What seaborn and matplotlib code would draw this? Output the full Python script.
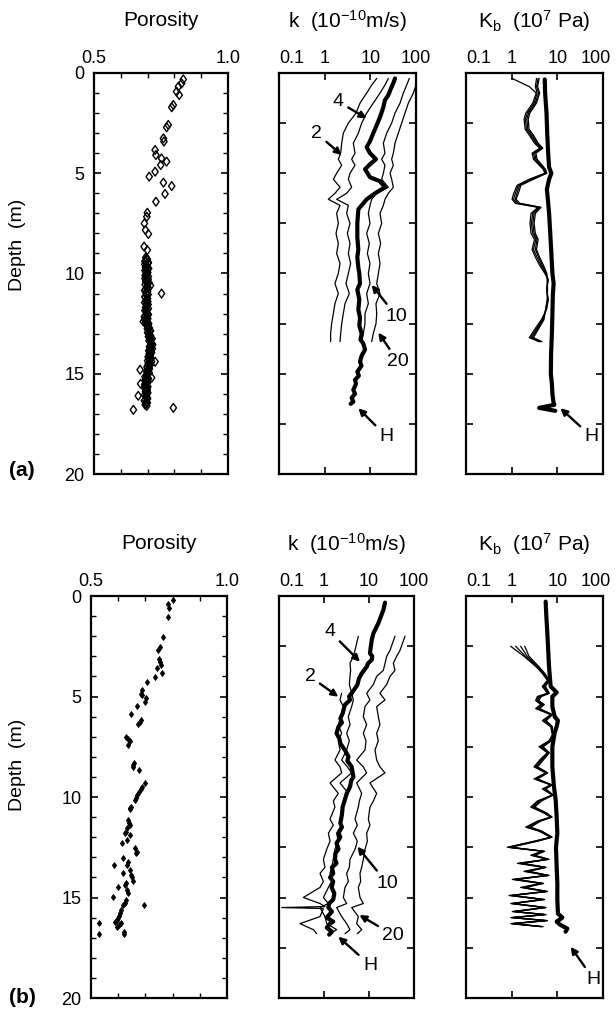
import matplotlib
matplotlib.use("Agg")
import numpy as np
import matplotlib.pyplot as plt
from matplotlib.path import Path
from matplotlib.ticker import NullLocator
from matplotlib.transforms import ScaledTranslation
import seaborn as sns

# ---------------- (a) porosity ----------------
por_a_depth = [0.32, 0.52, 0.68, 0.93, 1.10, 1.60, 1.71, 2.59, 2.71, 3.26, 3.42, 3.84, 4.09, 4.26,
               4.42, 4.59, 4.92, 5.17, 5.47, 5.64, 6.03, 6.42, 6.97, 7.17, 7.50, 7.83, 8.03, 8.66,
               8.83,
               9.2, 9.3, 9.4, 9.5, 9.6, 9.7, 9.8, 9.9, 10.0, 10.1, 10.2, 10.3, 10.4, 10.5, 10.6,
               10.7, 10.8, 10.9, 11.0, 11.1, 11.2, 11.3, 11.4, 11.5, 11.6, 11.7, 11.8, 11.9, 12.0,
               12.1, 12.2, 12.3, 12.4, 12.5, 12.6, 12.7, 12.8, 12.9, 13.0, 13.1, 13.2, 13.3, 13.4,
               13.5, 13.6, 13.7, 13.8, 13.9, 14.0, 14.1, 14.2, 14.3, 14.4, 14.5, 14.6, 14.7, 14.8,
               14.9, 15.0, 15.1, 15.2, 15.3, 15.4, 15.5, 15.6, 15.7, 15.8, 15.9, 16.0, 16.1, 16.2,
               16.3, 16.4, 16.5, 16.6,
               11.0, 12.4, 14.4, 14.8, 15.2, 15.5, 16.1, 16.8, 16.7]
por_a = [0.833, 0.827, 0.815, 0.808, 0.818, 0.796, 0.790, 0.777, 0.771, 0.759, 0.761, 0.728, 0.731,
         0.752, 0.771, 0.749, 0.728, 0.706, 0.759, 0.790, 0.765, 0.731, 0.699, 0.697, 0.688, 0.692,
         0.703, 0.687, 0.699,
         0.693, 0.699, 0.690, 0.701, 0.695, 0.692, 0.700, 0.694, 0.698, 0.691, 0.697, 0.702, 0.693,
         0.699, 0.711, 0.696, 0.692, 0.700, 0.695, 0.698, 0.691, 0.697, 0.701, 0.694, 0.699, 0.692,
         0.698, 0.695, 0.700, 0.693, 0.697, 0.690, 0.699, 0.704, 0.698, 0.706, 0.701, 0.708, 0.704,
         0.711, 0.707, 0.713, 0.709, 0.716, 0.711, 0.714, 0.708, 0.712, 0.706, 0.710, 0.703, 0.708,
         0.715, 0.702, 0.706, 0.699, 0.704, 0.697, 0.702, 0.695, 0.700, 0.693, 0.698, 0.691, 0.697,
         0.693, 0.699, 0.692, 0.697, 0.694, 0.699, 0.692, 0.696, 0.693, 0.697,
         0.752, 0.684, 0.728, 0.672, 0.715, 0.674, 0.665, 0.647, 0.796]
# second pass of samples filling the dense 9-17 m interval
por_a_fill_depth = [9.25, 9.35, 9.45, 9.55, 9.65, 9.75, 9.85, 9.95, 10.05, 10.15, 10.25, 10.35,
                    10.45, 10.55, 10.65, 10.75, 10.85, 10.95, 11.05, 11.15, 11.25, 11.35, 11.45,
                    11.55, 11.65, 11.75, 11.85, 11.95, 12.05, 12.15, 12.25, 12.35, 12.45, 12.55,
                    12.65, 12.75, 12.85, 12.95, 13.05, 13.15, 13.25, 13.35, 13.45, 13.55, 13.65,
                    13.75, 13.85, 13.95, 14.05, 14.15, 14.25, 14.35, 14.45, 14.55, 14.65, 14.75,
                    14.85, 14.95, 15.05, 15.15, 15.25, 15.35, 15.45, 15.55, 15.65, 15.75, 15.85,
                    15.95, 16.05, 16.15, 16.25, 16.35, 16.45, 16.55]
por_a_fill = [0.697, 0.692, 0.703, 0.689, 0.699, 0.704, 0.690, 0.701, 0.694, 0.703, 0.690, 0.696,
              0.705, 0.691, 0.700, 0.703, 0.689, 0.697, 0.702, 0.690, 0.700, 0.694, 0.689, 0.702,
              0.696, 0.703, 0.690, 0.697, 0.703, 0.688, 0.701, 0.695, 0.692, 0.700, 0.702, 0.699,
              0.711, 0.700, 0.708, 0.703, 0.717, 0.705, 0.712, 0.719, 0.707, 0.718, 0.704, 0.715,
              0.710, 0.702, 0.713, 0.700, 0.709, 0.711, 0.698, 0.707, 0.700, 0.706, 0.698, 0.690,
              0.703, 0.696, 0.700, 0.689, 0.701, 0.690, 0.696, 0.701, 0.689, 0.695, 0.700, 0.688,
              0.699, 0.691]

# ---------------- (a) permeability k ----------------
k_a_depth = [0.27, 0.6, 1.0, 1.5, 2.0, 2.5, 3.0, 3.5, 4.0, 4.3, 4.6, 5.0, 5.3, 5.7, 6.0, 6.3,
             6.6, 7.0, 7.5, 8.0, 8.5, 9.0, 9.5, 10.0, 10.5, 11.0, 11.5, 12.0, 12.5, 13.0, 13.4]
k_a_2 = [13.8, 10.7, 8.31, 5.94, 4.86, 3.30, 2.56, 2.36, 2.24, 1.99, 2.36, 1.83, 1.55, 2.17, 1.68,
         1.20, 2.17, 1.83, 1.99, 1.77, 1.99, 1.83, 2.17, 1.99, 1.68, 1.99, 1.68, 1.55, 1.42, 1.35, 1.35]
k_a_4 = [24.8, 20.9, 16.3, 11.6, 8.31, 6.46, 5.46, 4.24, 4.62, 3.90, 4.62, 3.59, 3.30, 3.90, 3.03,
         1.83, 3.30, 3.03, 3.59, 3.14, 3.59, 3.30, 3.71, 3.30, 2.93, 3.47, 2.79, 2.56, 2.36, 2.24, 2.17]
k_a_10 = [71.5, 62.5, 52.8, 44.7, 34.7, 29.3, 22.8, 19.3, 20.9, 17.7, 20.9, 19.3, 17.7, 24.8, 13.8,
          10.7, 9.84, 9.04, 9.84, 8.31, 9.51, 8.60, 9.84, 9.04, 9.84, 8.31, 9.04, 7.64, 7.64, 7.03, 6.46]
k_a_20_depth = [0.6, 1.0, 1.5, 2.0, 2.5, 3.0, 3.5, 4.0, 4.3, 4.6, 5.0, 5.3, 5.7, 6.0, 6.3,
                6.6, 7.0, 7.5, 8.0, 8.5, 9.0, 9.5, 10.0, 10.5, 11.0, 11.5, 12.0, 12.5, 13.0, 13.4]
k_a_20 = [100, 87.5, 68.0, 57.4, 48.5, 41.0, 34.7, 31.9, 29.3, 31.9, 27.0, 29.3, 31.9, 24.8, 20.9,
          19.3, 16.3, 17.7, 15.0, 16.8, 15.0, 16.3, 15.0, 13.8, 16.3, 13.3, 13.8, 13.3, 11.6, 10.7]
k_a_H_depth = [0.27, 0.5, 0.8, 1.1, 1.35, 1.7, 2.2, 2.6, 3.0, 3.4, 3.7, 4.0, 4.3, 4.55, 4.8, 5.2,
               5.4, 5.7, 6.0, 6.3, 6.8, 7.5, 8.2, 8.8, 9.2, 9.7, 10.0, 10.5, 10.8, 11.3, 11.8, 12.2,
               12.6, 13.0, 13.3, 13.5, 13.8, 14.1, 14.4, 14.6, 14.9, 15.1, 15.3, 15.5, 15.8, 16.0,
               16.2, 16.4, 16.5]
k_a_H = [34.7, 31.9, 27.9, 24.8, 20.9, 19.3, 16.3, 13.8, 11.6, 9.84, 8.31, 9.84, 13.3, 9.84, 7.64,
         9.84, 16.3, 20.9, 12.7, 8.31, 5.46, 5.19, 5.19, 5.46, 5.19, 5.46, 5.74, 5.94, 5.19, 5.74,
         5.46, 5.94, 5.74, 6.46, 6.1, 7.03, 7.64, 6.46, 5.94, 6.4, 5.19, 5.6, 4.62, 4.86, 4.24, 4.62,
         3.90, 4.24, 3.71]

# ---------------- (a) bulk modulus Kb ----------------
kb_a_depth = [0.27, 0.68, 1.0, 1.5, 2.0, 2.3, 2.8, 3.1, 3.5, 3.75, 4.0, 4.3, 4.8, 5.0, 5.3, 5.6,
              6.0, 6.3, 6.5, 6.7, 7.0, 7.5, 8.0, 8.3, 8.8, 9.2, 9.6, 10.0, 10.3, 10.8, 11.3, 11.8,
              12.3, 12.8, 13.2, 13.4]
kb_a_2 = [1.02, 2.43, 3.45, 2.90, 2.04, 1.87, 1.97, 2.43, 3.16, 4.11, 2.80, 3.00, 4.89, 5.34, 2.43,
          1.32, 1.11, 1.02, 1.21, 3.77, 2.66, 2.52, 2.66, 3.16, 2.80, 3.33, 4.11, 5.34, 6.35, 5.82,
          6.35, 5.82, 4.48, 3.16, 2.43, 3.97]
kb_a_4 = [3.5, 3.3, 3.6, 3.1, 2.2, 2.0, 2.1, 2.6, 3.4, 4.4, 3.0, 3.2, 5.1, 5.5, 2.6, 1.4, 1.2, 1.1,
          1.3, 4.0, 2.9, 2.7, 2.9, 3.4, 3.0, 3.6, 4.4, 5.5, 6.2, 5.9, 6.2, 5.7, 4.7, 3.4, 2.6, 4.2]
kb_a_10 = [3.8, 3.5, 3.9, 3.3, 2.35, 2.15, 2.25, 2.8, 3.6, 4.6, 3.2, 3.4, 5.3, 5.7, 2.8, 1.5, 1.3,
           1.2, 1.4, 4.2, 3.1, 2.9, 3.1, 3.6, 3.3, 3.9, 4.7, 5.7, 6.1, 6.0, 6.1, 5.6, 4.9, 3.6, 2.8, 4.4]
kb_a_20 = [4.0, 3.7, 4.1, 3.5, 2.5, 2.3, 2.4, 3.0, 3.8, 4.8, 3.4, 3.6, 5.5, 5.9, 3.0, 1.6, 1.4,
           1.25, 1.5, 4.4, 3.3, 3.1, 3.3, 3.8, 3.5, 4.1, 5.0, 5.9, 6.0, 6.1, 6.0, 5.5, 5.1, 3.8, 3.0, 4.6]
kb_a_H_depth = [0.32, 1.0, 2.0, 3.0, 4.0, 4.7, 5.0, 5.3, 5.8, 6.3, 7.0, 8.0, 9.0, 10.0, 10.5, 11.0,
                12.0, 13.0, 14.0, 15.0, 15.5, 16.0, 16.4, 16.55, 16.7, 16.85]
kb_a_H = [5.3, 5.4, 5.8, 6.0, 6.3, 6.6, 7.4, 6.6, 5.9, 6.2, 6.6, 7.0, 7.4, 7.8, 8.3, 8.0, 7.8, 7.6,
          7.3, 7.2, 7.6, 7.8, 8.2, 8.6, 4.0, 9.0]

# ---------------- (b) porosity ----------------
por_b_depth = [0.2, 0.41, 0.61, 1.03, 2.02, 2.52, 2.69, 3.15, 3.3, 3.43, 3.6, 3.85, 4.01, 4.26, 4.68,
               4.88, 4.95, 5.09, 5.26, 5.47, 5.87, 6.17, 6.27, 6.37, 7.0, 7.1, 7.2, 7.41, 8.32, 8.4,
               8.49, 8.66, 9.32, 9.52, 9.6, 9.73, 9.9, 10.05, 10.15, 10.48, 10.55, 10.61, 11.14,
               11.3, 11.39, 11.56, 11.75, 11.81, 11.89, 12.14, 12.31, 12.55, 12.72, 12.8, 13.05,
               13.22, 13.38, 13.38, 13.63, 13.8, 13.9, 13.96, 14.16, 14.3, 14.38, 14.49, 14.63,
               14.79, 14.99, 15.12, 15.25, 15.37, 15.37, 15.6, 15.79, 15.9, 16.04, 16.1, 16.2,
               16.29, 16.38, 16.45, 16.29, 16.82, 16.7, 16.82]
por_b = [0.803, 0.784, 0.787, 0.784, 0.763, 0.754, 0.748, 0.751, 0.753, 0.756, 0.744, 0.760, 0.735,
         0.707, 0.686, 0.683, 0.686, 0.702, 0.699, 0.668, 0.646, 0.683, 0.680, 0.674, 0.629, 0.636,
         0.643, 0.637, 0.659, 0.656, 0.653, 0.678, 0.699, 0.686, 0.682, 0.678, 0.668, 0.666, 0.662,
         0.646, 0.645, 0.643, 0.637, 0.640, 0.643, 0.634, 0.630, 0.625, 0.643, 0.634, 0.613, 0.662,
         0.668, 0.665, 0.619, 0.637, 0.631, 0.585, 0.643, 0.616, 0.648, 0.650, 0.653, 0.628, 0.625,
         0.600, 0.634, 0.637, 0.580, 0.629, 0.626, 0.619, 0.695, 0.612, 0.607, 0.604, 0.600, 0.597,
         0.588, 0.609, 0.603, 0.594, 0.531, 0.531, 0.621, 0.621]

# ---------------- (b) permeability k ----------------
k_b_depth = [2.0, 2.7, 3.0, 3.35, 3.7, 4.0, 4.4, 4.84, 5.17, 5.5, 6.0, 6.4, 6.83, 7.2, 7.66, 8.16,
             8.5, 8.8, 9.3, 9.82, 10.2, 10.5, 11.1, 11.4, 11.8, 12.2, 12.6, 13.1, 13.5, 13.8, 14.2,
             14.5, 15.0, 15.3, 15.5, 15.95, 16.3, 16.6, 16.8]
k_b_4 = [5.79, 4.89, 4.49, 3.78, 3.91, 3.78, 3.66, 4.12, 4.49, 4.12, 3.47, 3.78, 3.19, 3.66, 3.19,
         2.47, 3.30, 4.12, 2.27, 3.47, 2.93, 2.69, 2.27, 2.47, 1.91, 2.08, 1.75, 1.61, 1.48, 1.36,
         1.48, 1.25, 0.97, 1.25, 0.815, 1.05, 1.15, 1.91, 1.36]
k_b_10 = [37.8, 29.3, 24.7, 22.7, 20.8, 14.8, 12.5, 8.87, 10.5, 8.15, 7.48, 8.87, 7.48, 8.58, 8.15,
          5.32, 7.48, 8.87, 5.32, 6.87, 6.10, 5.79, 4.89, 5.5, 4.49, 5.5, 4.89, 3.78, 3.66, 3.19,
          3.47, 2.93, 2.69, 3.19, 1.91, 2.47, 3.19, 3.78, 2.93]
k_b_20 = [63.1, 48.9, 41.2, 34.7, 37.8, 29.3, 24.7, 17.5, 22.7, 14.8, 16.1, 17.5, 14.8, 16.1, 13.6,
          14.8, 17.5, 22.7, 10.5, 14.8, 12.5, 10.5, 9.67, 10.5, 8.87, 9.18, 8.15, 7.48, 6.87, 6.31,
          6.53, 5.79, 6.31, 7.48, 4.12, 5.79, 5.32, 6.87, 5.5]
k_b_2_depth = [4.84, 5.17, 5.5, 6.0, 6.4, 6.83, 7.2, 7.66, 8.16, 8.5, 8.8, 9.3, 9.82, 10.2, 10.5,
               11.1, 11.4, 11.8, 12.2, 12.6, 13.1, 13.5, 13.8, 14.2, 14.5, 15.0, 15.3, 15.45, 15.5,
               15.55, 15.95, 16.3, 16.6, 16.8]
k_b_2 = [2.47, 2.27, 2.69, 2.35, 2.08, 2.47, 2.08, 2.27, 1.75, 2.27, 2.47, 1.36, 2.08, 1.61, 1.75,
         1.36, 1.61, 1.25, 1.36, 1.15, 0.97, 1.05, 0.815, 0.97, 0.815, 0.347, 0.815, 1.05, 0.115,
         0.97, 0.815, 0.293, 0.58, 0.687]
k_b_H_depth = [0.33, 0.7, 1.0, 1.36, 1.86, 2.19, 2.5, 2.85, 3.0, 3.18, 3.35, 3.52, 3.85, 4.1, 4.43,
               4.84, 5.0, 5.17, 5.42, 5.84, 6.09, 6.3, 6.5, 6.83, 7.1, 7.33, 7.66, 7.99, 8.2, 8.49,
               8.75, 8.99, 9.2, 9.49, 9.82, 10.15, 10.48, 10.9, 11.3, 11.5, 11.8, 12.0, 12.3, 12.6,
               12.8, 13.1, 13.3, 13.5, 13.8, 14.0, 14.2, 14.5, 14.8, 15.1, 15.3, 15.5, 15.7, 16.0,
               16.2, 16.3, 16.5, 16.7, 16.85]
k_b_H = [22.7, 20.8, 18.5, 16.1, 12.5, 11.5, 11.0, 10.5, 11.8, 11.5, 9.5, 8.9, 6.9, 6.0, 5.5, 4.1,
         3.6, 3.8, 2.9, 2.6, 2.3, 2.5, 2.1, 1.9, 2.2, 2.3, 2.9, 3.5, 3.3, 4.1, 4.3, 4.5, 4.0, 3.8,
         3.2, 2.9, 2.6, 2.5, 2.3, 2.5, 2.1, 2.3, 1.9, 2.1, 1.8, 1.75, 1.9, 1.5, 1.6, 1.36, 1.6, 1.48,
         1.7, 1.6, 1.3, 1.25, 1.5, 1.15, 1.6, 1.36, 1.15, 1.5, 1.3]

# ---------------- (b) bulk modulus Kb ----------------
kb_b_depth = [2.5, 3.0, 3.5, 3.85, 4.2, 4.5, 4.84, 5.0, 5.2, 5.4, 5.6, 5.9, 6.2, 6.5, 6.9, 7.2, 7.5,
              7.8, 8.1, 8.5, 8.8, 9.1, 9.4, 9.6, 9.9, 10.2, 10.5, 10.8, 11.0, 11.2, 11.5, 11.7,
              12.0, 12.2, 12.5, 12.7, 12.9, 13.1, 13.3, 13.5, 13.7, 13.9, 14.1, 14.3, 14.5, 14.7,
              14.9, 15.1, 15.3, 15.5, 15.7, 15.85, 16.0, 16.15, 16.3, 16.45]
kb_b_2 = [0.95, 1.86, 3.35, 4.69, 6.04, 4.69, 6.04, 3.65, 3.35, 4.32, 3.35, 7.14, 4.69, 7.14, 7.78,
          6.6, 3.97, 6.04, 4.32, 3.08, 5.55, 3.08, 7.14, 4.69, 7.78, 3.65, 2.61, 5.1, 7.14, 3.65,
          2.03, 3.97, 7.14, 3.08, 0.80, 4.69, 2.61, 6.04, 1.33, 5.1, 1.86, 6.04, 1.03, 4.32, 1.57,
          5.55, 0.875, 4.69, 0.95, 5.1, 1.03, 5.1, 0.95, 5.55, 0.95, 4.32]
kb_b_4 = [1.22, 2.0, 3.5, 4.9, 6.3, 4.9, 6.3, 3.9, 3.5, 4.6, 3.5, 7.4, 5.0, 7.4, 7.9, 6.9, 4.3, 6.3,
          4.6, 3.3, 5.8, 3.3, 7.3, 5.0, 7.9, 3.9, 2.8, 5.4, 7.3, 3.9, 2.2, 4.2, 7.3, 3.3, 0.85, 4.9,
          2.8, 6.2, 1.45, 5.3, 2.0, 6.2, 1.1, 4.6, 1.7, 5.7, 0.95, 4.9, 1.0, 5.3, 1.1, 5.3, 1.0, 5.7,
          1.0, 4.5]
kb_b_10 = [1.57, 2.2, 3.7, 5.1, 6.5, 5.2, 6.5, 4.2, 3.7, 4.9, 3.8, 7.6, 5.4, 7.6, 8.0, 7.2, 4.6, 6.5,
           4.9, 3.5, 6.0, 3.5, 7.5, 5.3, 8.0, 4.2, 3.0, 5.7, 7.5, 4.1, 2.4, 4.4, 7.5, 3.5, 0.9, 5.1,
           3.0, 6.4, 1.6, 5.5, 2.2, 6.4, 1.2, 4.8, 1.85, 5.9, 1.0, 5.1, 1.05, 5.5, 1.15, 5.5, 1.05,
           5.9, 1.05, 4.7]
kb_b_20 = [1.93, 2.4, 3.9, 5.3, 6.7, 5.5, 6.7, 4.5, 3.9, 5.2, 4.1, 7.8, 5.7, 7.8, 8.1, 7.5, 4.9, 6.7,
           5.2, 3.7, 6.2, 3.7, 7.7, 5.6, 8.1, 4.5, 3.2, 5.9, 7.7, 4.3, 2.6, 4.6, 7.7, 3.7, 0.95, 5.3,
           3.2, 6.6, 1.75, 5.7, 2.4, 6.6, 1.3, 5.0, 2.0, 6.1, 1.05, 5.3, 1.1, 5.7, 1.2, 5.7, 1.1, 6.1,
           1.1, 4.9]
kb_b_H_depth = [0.28, 1.0, 1.86, 2.5, 3.5, 4.5, 4.8, 5.0, 5.5, 6.0, 6.2, 6.5, 6.8, 7.5, 8.5, 9.5,
                10.15, 11.0, 11.8, 12.5, 13.5, 14.3, 15.1, 15.8, 16.0, 16.2, 16.35, 16.55, 16.7]
kb_b_H = [5.55, 5.74, 6.04, 6.25, 6.57, 7.14, 9.67, 7.78, 7.78, 8.74, 10.3, 9.67, 8.74, 7.78, 7.78,
          8.45, 9.2, 9.67, 10.0, 9.35, 9.67, 10.0, 10.0, 10.3, 12.9, 9.67, 11.4, 16.6, 15.1]

# curve labels: (text, text x, text depth, arrow x, arrow depth)
labels_k_a = [("4", 1.99, 1.43, 8.3, 2.26), ("2", 0.668, 3.01, 2.36, 4.09),
              ("10", 37.7, 12.15, 10.7, 10.57), ("20", 41.0, 14.4, 15.0, 12.95),
              ("H", 22.8, 18.14, 5.46, 16.72)]
labels_kb_a = [("H", 56.2, 18.14, 11.7, 16.72)]
labels_k_b = [("4", 1.36, 1.77, 6.3, 3.27), ("2", 0.489, 4.01, 2.08, 5.01),
              ("10", 25.5, 14.3, 5.5, 12.47), ("20", 34.7, 16.87, 6.1, 15.87),
              ("H", 10.5, 18.36, 2.08, 16.95)]
labels_kb_b = [("H", 63.3, 19.1, 19.6, 17.45)]

sns.set_style("ticks")
plt.rcParams["font.family"] = ["Liberation Sans", "DejaVu Sans"]
plt.rcParams["mathtext.fontset"] = "custom"
plt.rcParams["mathtext.rm"] = "Liberation Sans"
plt.rcParams["mathtext.it"] = "Liberation Sans:italic"
plt.rcParams["text.color"] = "black"
plt.rcParams["xtick.color"] = "black"
plt.rcParams["ytick.color"] = "black"
plt.rcParams["xtick.labelcolor"] = "black"
plt.rcParams["ytick.labelcolor"] = "black"

W, H = 616, 1013
fig = plt.figure(figsize=(6.16, 10.13), dpi=100)


def box(x0, x1, y0, y1):
    # pixel box -> figure fraction
    return [x0 / W, 1 - y1 / H, (x1 - x0) / W, (y1 - y0) / H]


diamond = Path([(0, 1), (0.72, 0), (0, -1), (-0.72, 0), (0, 1)],
               [Path.MOVETO, Path.LINETO, Path.LINETO, Path.LINETO, Path.CLOSEPOLY])


def frame(ax):
    for s in ax.spines.values():
        s.set_linewidth(1.6)
        s.set_color("black")
    ax.set_ylim(20, 0)
    ax.set_xlabel("")
    ax.set_ylabel("")


def style_porosity(ax):
    frame(ax)
    ax.set_xlim(0.5, 1.0)
    ax.xaxis.tick_top()
    ax.set_xticks([0.5, 1.0], ["0.5", "1.0"])
    ax.set_xticks([0.6, 0.7, 0.8, 0.9], minor=True)
    ax.set_yticks([0, 5, 10, 15, 20], ["0", "5", "10", "15", "20"])
    ax.set_yticks(list(range(21)), minor=True)
    ax.tick_params(which="both", direction="in", top=True, bottom=True, left=True, right=True,
                   labeltop=True, labelbottom=False, labelsize=13, colors="black")
    ax.tick_params(which="major", length=5, width=1.2)
    ax.tick_params(which="minor", length=3.5, width=1)
    ax.tick_params(axis="y", pad=7)
    ax.tick_params(axis="x", pad=4)
    ax.text(0.5, 1.13, "Porosity", transform=ax.transAxes, ha="center", va="center", fontsize=15)


def style_log(ax, title, nudge_last=False):
    frame(ax)
    ax.set_xscale("log")
    ax.set_xlim(0.1, 100)
    ax.xaxis.tick_top()
    ax.set_xticks([0.1, 1, 10, 100], ["0.1", "1", "10", "100"])
    ax.xaxis.set_minor_locator(NullLocator())
    ax.set_yticks(np.arange(0, 20.1, 2.5))
    ax.tick_params(which="both", direction="in", top=True, bottom=True, left=True, right=True,
                   labeltop=True, labelbottom=False, labelleft=False, labelsize=13,
                   length=5, width=1.2, colors="black")
    ax.tick_params(axis="x", pad=4)
    labs = ax.get_xticklabels()
    labs[0].set_horizontalalignment("left")
    if nudge_last:
        labs[-1].set_transform(labs[-1].get_transform()
                               + ScaledTranslation(-5 / 72, 0, fig.dpi_scale_trans))
    ax.text(0.5, 1.13, title, transform=ax.transAxes, ha="center", va="center", fontsize=15)


def thin(ax, x, y):
    sns.lineplot(x=x, y=y, ax=ax, sort=False, estimator=None, orient="y",
                 color="black", lw=0.9)


def thick(ax, x, y):
    sns.lineplot(x=x, y=y, ax=ax, sort=False, estimator=None, orient="y",
                 color="black", lw=3.0, solid_joinstyle="round")


def annotate(ax, items):
    for txt, tx, ty, ax_, ay in items:
        ax.annotate(txt, xy=(ax_, ay), xytext=(tx, ty), ha="center", va="center", fontsize=14,
                    color="black",
                    arrowprops=dict(arrowstyle="-|>", color="black", lw=1.7,
                                    mutation_scale=10, shrinkA=1, shrinkB=0))


title_k = "k  (10$^{\\mathregular{-10}}$m/s)"
title_kb = "K$_{\\mathregular{b}}$  (10$^{\\mathregular{7}}$ Pa)"

# ---------------- row (a) ----------------
ax1 = fig.add_axes(box(94, 228, 73, 474))
# open (unfilled) diamonds so overlapping outlines build up the dark band
sns.scatterplot(x=por_a + por_a_fill, y=por_a_depth + por_a_fill_depth, ax=ax1, marker=diamond,
                s=40, color="none", edgecolor="black", linewidth=1.0, zorder=3)
style_porosity(ax1)

ax2 = fig.add_axes(box(279, 416, 73, 474))
ax2.set_xscale("log")
for vals, dep in [(k_a_2, k_a_depth), (k_a_4, k_a_depth), (k_a_10, k_a_depth),
                  (k_a_20, k_a_20_depth)]:
    thin(ax2, vals, dep)
thick(ax2, k_a_H, k_a_H_depth)
style_log(ax2, title_k)
annotate(ax2, labels_k_a)

ax3 = fig.add_axes(box(466, 603, 73, 474))
ax3.set_xscale("log")
for vals in [kb_a_2, kb_a_4, kb_a_10, kb_a_20]:
    thin(ax3, vals, kb_a_depth)
thick(ax3, kb_a_H, kb_a_H_depth)
style_log(ax3, title_kb, nudge_last=True)
annotate(ax3, labels_kb_a)

# ---------------- row (b) ----------------
ax4 = fig.add_axes(box(91, 227, 596, 998))
sns.scatterplot(x=por_b, y=por_b_depth, ax=ax4, marker=diamond, s=18, color="black",
                edgecolor="black", linewidth=0.6, zorder=3)
style_porosity(ax4)

ax5 = fig.add_axes(box(279, 414, 596, 998))
ax5.set_xscale("log")
for vals, dep in [(k_b_4, k_b_depth), (k_b_10, k_b_depth), (k_b_20, k_b_depth),
                  (k_b_2, k_b_2_depth)]:
    thin(ax5, vals, dep)
thick(ax5, k_b_H, k_b_H_depth)
style_log(ax5, title_k)
annotate(ax5, labels_k_b)

ax6 = fig.add_axes(box(466, 603, 596, 998))
ax6.set_xscale("log")
for vals in [kb_b_2, kb_b_4, kb_b_10, kb_b_20]:
    thin(ax6, vals, kb_b_depth)
thick(ax6, kb_b_H, kb_b_H_depth)
style_log(ax6, title_kb, nudge_last=True)
annotate(ax6, labels_kb_b)

# figure-level labels
fig.text(18 / W, 1 - 245 / H, "Depth  (m)", rotation=90, ha="center", va="center", fontsize=14)
fig.text(18 / W, 1 - 765 / H, "Depth  (m)", rotation=90, ha="center", va="center", fontsize=14)
fig.text(22 / W, 1 - 471 / H, "(a)", ha="center", va="center", fontsize=15, fontweight="bold")
fig.text(22 / W, 1 - 997 / H, "(b)", ha="center", va="center", fontsize=15, fontweight="bold")

fig.savefig("out.png", dpi=100)
